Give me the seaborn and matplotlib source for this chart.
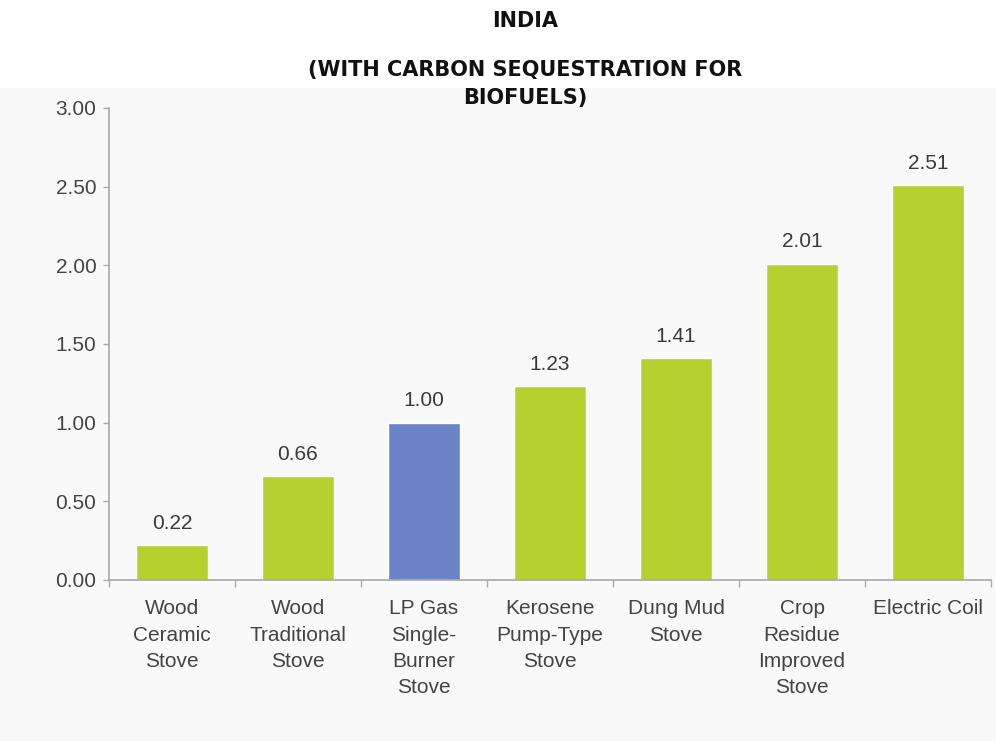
import matplotlib
matplotlib.use("Agg")
import matplotlib.pyplot as plt
import seaborn as sns
import pandas as pd
from matplotlib.patches import Rectangle

# Stove types and their relative values (LP Gas = 1.00)
stoves = [
    "Wood\nCeramic\nStove",
    "Wood\nTraditional\nStove",
    "LP Gas\nSingle-\nBurner\nStove",
    "Kerosene\nPump-Type\nStove",
    "Dung Mud\nStove",
    "Crop\nResidue\nImproved\nStove",
    "Electric Coil",
]
values = [0.22, 0.66, 1.00, 1.23, 1.41, 2.01, 2.51]
bar_colors = ["#b5d02f", "#b5d02f", "#6b83c8", "#b5d02f", "#b5d02f", "#b5d02f", "#b5d02f"]
y_ticks = [0.0, 0.5, 1.0, 1.5, 2.0, 2.5, 3.0]

title_line1 = "INDIA"
title_line2 = "(WITH CARBON SEQUESTRATION FOR\nBIOFUELS)"

sns.set_theme(style="white")
plt.rcParams["font.family"] = ["Liberation Sans", "DejaVu Sans"]

df = pd.DataFrame({"stove": stoves, "value": values})

fig = plt.figure(figsize=(9.96, 7.41), dpi=100, facecolor="white")
# light panel behind the chart
fig.patches.append(Rectangle((0, 0), 1, 0.881, transform=fig.transFigure,
                             facecolor="#f9f9f9", edgecolor="none", zorder=-10))

ax = fig.add_axes([0.1094, 0.2173, 0.8856, 0.637])
ax.set_facecolor("#f9f9f9")

sns.barplot(data=df, x="stove", y="value", hue="stove", palette=bar_colors,
            order=stoves, hue_order=stoves, width=0.565, legend=False,
            saturation=1, ax=ax)

for cont in ax.containers:
    ax.bar_label(cont, fmt="%.2f", padding=9, fontsize=15, color="#3a3a3a")

ax.set_ylim(0, 3.0)
ax.set_xlim(-0.5, len(stoves) - 0.5)
ax.set_yticks(y_ticks)
ax.set_yticklabels([f"{v:.2f}" for v in y_ticks])
ax.set_xticks(range(len(stoves)))
ax.set_xticklabels(stoves, linespacing=1.48, va="top")
ax.set_xlabel("")
ax.set_ylabel("")

for side in ["top", "right"]:
    ax.spines[side].set_visible(False)
for side in ["left", "bottom"]:
    ax.spines[side].set_color("#a8a8a8")
    ax.spines[side].set_linewidth(1.2)

ax.tick_params(axis="y", which="major", length=4, width=1, color="#a8a8a8",
               pad=5, labelsize=15, labelcolor="#444444", left=True)
ax.tick_params(axis="x", which="major", length=0, pad=14, labelsize=15,
               labelcolor="#444444")

# category separators on the baseline
ax.set_xticks([i - 0.5 for i in range(len(stoves) + 1)], minor=True)
ax.tick_params(axis="x", which="minor", length=5, width=1, color="#a8a8a8",
               bottom=True)

fig.text(0.527, 0.971, title_line1, ha="center", va="center", fontsize=15,
         fontweight="bold", family=["DejaVu Sans"], color="#111111")
fig.text(0.527, 0.887, title_line2, ha="center", va="center", fontsize=15,
         fontweight="bold", family=["DejaVu Sans"], color="#111111",
         linespacing=1.5)

fig.savefig("out.png", dpi=100, facecolor=fig.get_facecolor())
